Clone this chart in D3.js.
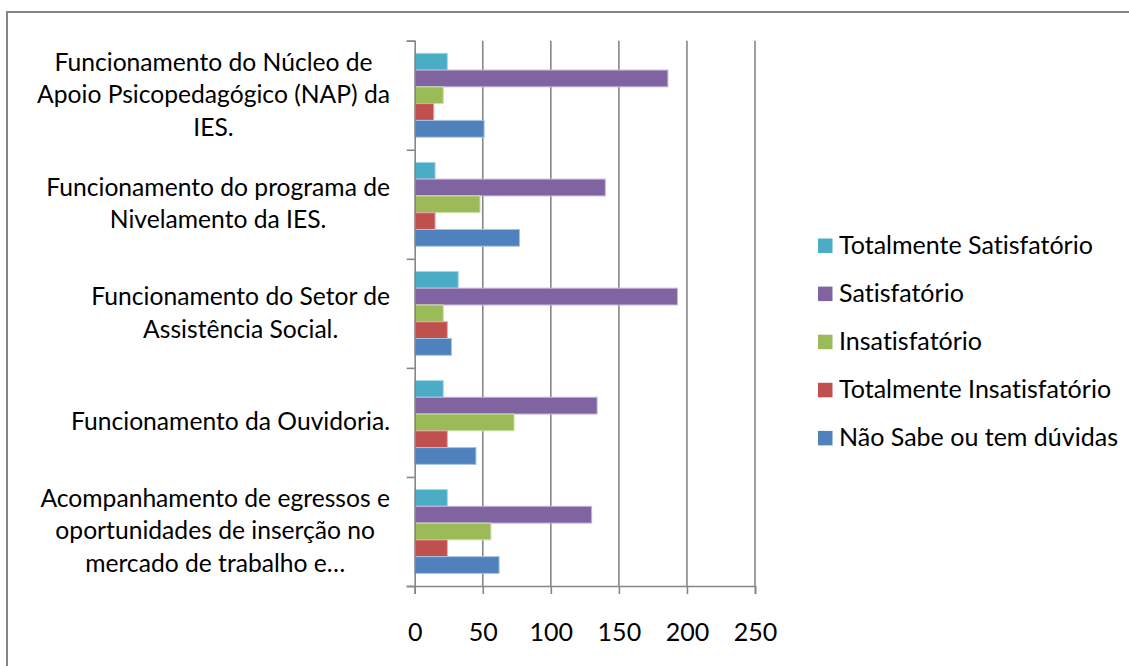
<!DOCTYPE html>
<html>
<head>
<meta charset="utf-8">
<script src="https://cdn.jsdelivr.net/npm/d3@7"></script>
<style>
  body { margin: 0; background: #fff; }
  svg { display: block; }
  text { font-variant-ligatures: none; }
</style>
</head>
<body>
<div class="chart"></div>
<script>
// chart values (top category first, as drawn)
var categoryLines = [
  ["Funcionamento do Núcleo de", "Apoio Psicopedagógico (NAP) da", "IES."],
  ["Funcionamento do programa de", "Nivelamento da IES."],
  ["Funcionamento do Setor de", "Assistência Social."],
  ["Funcionamento da Ouvidoria."],
  ["Acompanhamento de egressos e", "oportunidades de inserção no", "mercado de trabalho e…"]
];
var seriesNames = ["Totalmente Satisfatório", "Satisfatório", "Insatisfatório", "Totalmente Insatisfatório", "Não Sabe ou tem dúvidas"];
var totalmenteSatisfatorio = [24, 15, 32, 21, 24];
var satisfatorio = [186, 140, 193, 134, 130];
var insatisfatorio = [21, 48, 21, 73, 56];
var totalmenteInsatisfatorio = [14, 15, 24, 24, 24];
var naoSabe = [51, 77, 27, 45, 62];
var xTicks = [0, 50, 100, 150, 200, 250];
var colors = ["#4BACC6", "#8064A2", "#9BBB59", "#C0504D", "#4F81BD"];
var strokes = ["#a9d8e4", "#c3b5d6", "#cfe0b0", "#e3aaa8", "#a9c2e2"];

var seriesValues = [totalmenteSatisfatorio, satisfatorio, insatisfatorio, totalmenteInsatisfatorio, naoSabe];

var svgWidth = 1129, svgHeight = 666;
var margin = { top: 40.7, left: 414.7, right: 1129 - 755, bottom: 666 - 586 };
var width = svgWidth - margin.left - margin.right;
var height = svgHeight - margin.top - margin.bottom;
var fontFamily = "Lato, 'Open Sans', sans-serif";

var svg = d3.select(".chart").append("svg")
  .attr("width", svgWidth)
  .attr("height", svgHeight);

// outer chart border
svg.append("rect")
  .attr("x", 7).attr("y", 12)
  .attr("width", svgWidth + 20).attr("height", svgHeight + 20)
  .attr("fill", "none")
  .attr("stroke", "#868686")
  .attr("stroke-width", 2);

// pick a font size that gives the reference text width
var probe = svg.append("text").attr("font-family", fontFamily).attr("font-size", 20)
  .style("font-variant-ligatures", "none").text("Totalmente Satisfatório");
var fs = 20 * 254 / probe.node().getComputedTextLength();
probe.remove();
var labelFs = fs * 0.985;

var chartGroup = svg.append("g")
  .attr("transform", `translate(${margin.left}, ${margin.top})`);

var xScale = d3.scaleLinear().domain([0, 250]).range([0, width]);
var yScale = d3.scaleBand()
  .domain(d3.range(categoryLines.length))
  .range([0, height])
  .padding(0);
var ySub = d3.scaleBand()
  .domain(d3.range(seriesNames.length))
  .range([0, yScale.bandwidth()])
  .paddingInner(0)
  .paddingOuter(0.75);

// vertical gridlines
chartGroup.selectAll(".grid")
  .data(xTicks.slice(1))
  .enter().append("line")
  .attr("x1", d => xScale(d)).attr("x2", d => xScale(d))
  .attr("y1", 0).attr("y2", height)
  .attr("stroke", "#868686")
  .attr("stroke-width", 1.6);

// bars
var catGroups = chartGroup.selectAll(".cat")
  .data(categoryLines)
  .enter().append("g")
  .attr("transform", (d, i) => `translate(0, ${yScale(i)})`);

catGroups.each(function(d, ci) {
  d3.select(this).selectAll("rect")
    .data(seriesValues.map((s, si) => ({ si: si, v: s[ci] })))
    .enter().append("rect")
    .attr("x", 0)
    .attr("y", e => ySub(e.si))
    .attr("width", e => xScale(e.v))
    .attr("height", ySub.bandwidth())
    .attr("fill", e => colors[e.si])
    .attr("stroke", e => strokes[e.si])
    .attr("stroke-width", 1);
});

// x axis
var xAxis = d3.axisBottom(xScale).tickValues(xTicks).tickSize(8).tickFormat(d3.format("d"));
var xg = chartGroup.append("g")
  .attr("transform", `translate(0, ${height})`)
  .call(xAxis);
xg.select(".domain").attr("stroke", "#868686").attr("stroke-width", 1.6);
xg.selectAll(".tick line").attr("stroke", "#868686").attr("stroke-width", 1.6);
xg.selectAll(".tick text")
  .attr("font-family", fontFamily)
  .attr("font-size", fs)
  .attr("fill", "#000")
  .attr("y", 0)
  .attr("dy", 0)
  .attr("transform", "translate(0, 55)");

// y axis (category boundaries)
var yAxis = d3.axisLeft(d3.scaleLinear().domain([0, categoryLines.length]).range([0, height]))
  .ticks(categoryLines.length).tickSize(8).tickFormat("");
var yg = chartGroup.append("g").call(yAxis);
yg.select(".domain").attr("stroke", "#868686").attr("stroke-width", 1.6);
yg.selectAll(".tick line").attr("stroke", "#868686").attr("stroke-width", 1.6);

// category labels: each block right aligned, lines centered in block
var labelRight = 390;
var lineGap = 32.4;
categoryLines.forEach(function(lines, ci) {
  var cy = margin.top + yScale(ci) + yScale.bandwidth() / 2;
  var g = svg.append("g");
  var texts = lines.map(function(line, li) {
    return g.append("text")
      .attr("font-family", fontFamily)
      .attr("font-size", labelFs)
      .attr("fill", "#000")
      .attr("text-anchor", "middle")
      .attr("y", cy + (li - (lines.length - 1) / 2) * lineGap + 8)
      .text(line);
  });
  var maxW = d3.max(texts, t => t.node().getComputedTextLength());
  texts.forEach(t => t.attr("x", labelRight - maxW / 2));
});

// legend
var legend = svg.append("g").attr("transform", "translate(818, 246)");
var rows = legend.selectAll("g")
  .data(seriesNames)
  .enter().append("g")
  .attr("transform", (d, i) => `translate(0, ${i * 48.1})`);
rows.append("rect")
  .attr("x", 0).attr("y", -7.5)
  .attr("width", 14.5).attr("height", 14.5)
  .attr("fill", (d, i) => colors[i]);
rows.append("text")
  .attr("x", 21).attr("y", 8)
  .attr("font-family", fontFamily)
  .attr("font-size", fs)
  .attr("fill", "#000")
  .text(d => d);
</script>
</body>
</html>
